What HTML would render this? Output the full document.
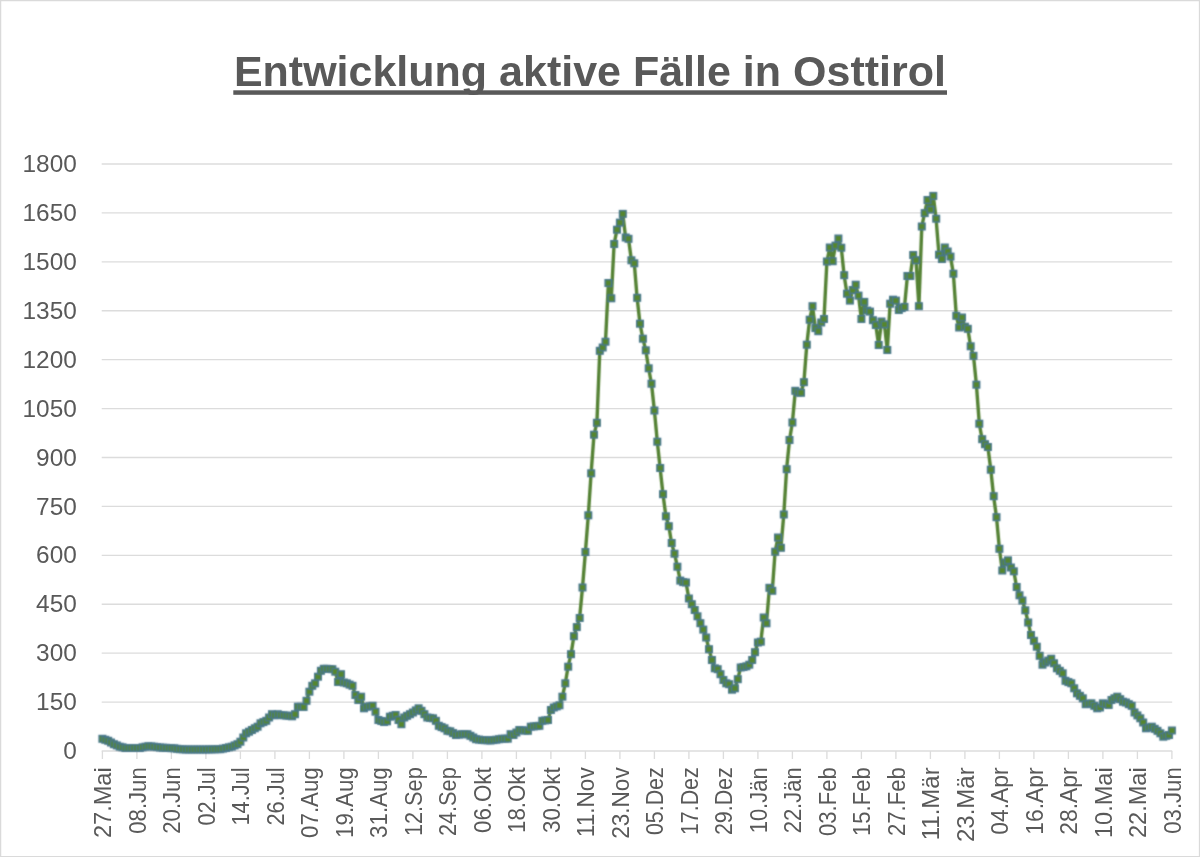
<!DOCTYPE html>
<html lang="de"><head><meta charset="utf-8"><title>Entwicklung aktive Fälle in Osttirol</title>
<style>html,body{margin:0;padding:0;background:#fff}body{width:1200px;height:857px;overflow:hidden;font-family:"Liberation Sans",sans-serif}svg{display:block}text{font-family:"Liberation Sans",sans-serif}.t{opacity:0.999}</style></head><body>
<svg width="1200" height="857" viewBox="0 0 1200 857">
<rect x="0" y="0" width="1200" height="857" fill="#ffffff"/>
<path d="M0 0H1200V857H0Z M1.25 1.25V855.95H1198.85V1.25Z" fill="#dadada" fill-rule="evenodd"/>
<g stroke="#dcdcdc" stroke-width="1.35" fill="none">
<line x1="101.70" y1="751.00" x2="1172.20" y2="751.00"/>
<line x1="101.70" y1="702.08" x2="1172.20" y2="702.08"/>
<line x1="101.70" y1="653.17" x2="1172.20" y2="653.17"/>
<line x1="101.70" y1="604.25" x2="1172.20" y2="604.25"/>
<line x1="101.70" y1="555.33" x2="1172.20" y2="555.33"/>
<line x1="101.70" y1="506.42" x2="1172.20" y2="506.42"/>
<line x1="101.70" y1="457.50" x2="1172.20" y2="457.50"/>
<line x1="101.70" y1="408.58" x2="1172.20" y2="408.58"/>
<line x1="101.70" y1="359.67" x2="1172.20" y2="359.67"/>
<line x1="101.70" y1="310.75" x2="1172.20" y2="310.75"/>
<line x1="101.70" y1="261.83" x2="1172.20" y2="261.83"/>
<line x1="101.70" y1="212.92" x2="1172.20" y2="212.92"/>
<line x1="101.70" y1="164.00" x2="1172.20" y2="164.00"/>
<line x1="102.40" y1="751.00" x2="102.40" y2="759.00"/>
<line x1="136.90" y1="751.00" x2="136.90" y2="759.00"/>
<line x1="171.40" y1="751.00" x2="171.40" y2="759.00"/>
<line x1="205.90" y1="751.00" x2="205.90" y2="759.00"/>
<line x1="240.40" y1="751.00" x2="240.40" y2="759.00"/>
<line x1="274.90" y1="751.00" x2="274.90" y2="759.00"/>
<line x1="309.40" y1="751.00" x2="309.40" y2="759.00"/>
<line x1="343.90" y1="751.00" x2="343.90" y2="759.00"/>
<line x1="378.40" y1="751.00" x2="378.40" y2="759.00"/>
<line x1="412.90" y1="751.00" x2="412.90" y2="759.00"/>
<line x1="447.40" y1="751.00" x2="447.40" y2="759.00"/>
<line x1="481.90" y1="751.00" x2="481.90" y2="759.00"/>
<line x1="516.40" y1="751.00" x2="516.40" y2="759.00"/>
<line x1="550.90" y1="751.00" x2="550.90" y2="759.00"/>
<line x1="585.40" y1="751.00" x2="585.40" y2="759.00"/>
<line x1="619.90" y1="751.00" x2="619.90" y2="759.00"/>
<line x1="654.40" y1="751.00" x2="654.40" y2="759.00"/>
<line x1="688.90" y1="751.00" x2="688.90" y2="759.00"/>
<line x1="723.40" y1="751.00" x2="723.40" y2="759.00"/>
<line x1="757.90" y1="751.00" x2="757.90" y2="759.00"/>
<line x1="792.40" y1="751.00" x2="792.40" y2="759.00"/>
<line x1="826.90" y1="751.00" x2="826.90" y2="759.00"/>
<line x1="861.40" y1="751.00" x2="861.40" y2="759.00"/>
<line x1="895.90" y1="751.00" x2="895.90" y2="759.00"/>
<line x1="930.40" y1="751.00" x2="930.40" y2="759.00"/>
<line x1="964.90" y1="751.00" x2="964.90" y2="759.00"/>
<line x1="999.40" y1="751.00" x2="999.40" y2="759.00"/>
<line x1="1033.90" y1="751.00" x2="1033.90" y2="759.00"/>
<line x1="1068.40" y1="751.00" x2="1068.40" y2="759.00"/>
<line x1="1102.90" y1="751.00" x2="1102.90" y2="759.00"/>
<line x1="1137.40" y1="751.00" x2="1137.40" y2="759.00"/>
<line x1="1171.90" y1="751.00" x2="1171.90" y2="759.00"/>
</g>
<g class="t" font-size="24.4" fill="#595959" text-anchor="end">
<text x="76.8" y="759.10">0</text>
<text x="76.8" y="710.18">150</text>
<text x="76.8" y="661.27">300</text>
<text x="76.8" y="612.35">450</text>
<text x="76.8" y="563.43">600</text>
<text x="76.8" y="514.52">750</text>
<text x="76.8" y="465.60">900</text>
<text x="76.8" y="416.68">1050</text>
<text x="76.8" y="367.77">1200</text>
<text x="76.8" y="318.85">1350</text>
<text x="76.8" y="269.94">1500</text>
<text x="76.8" y="221.02">1650</text>
<text x="76.8" y="172.10">1800</text>
</g>
<g class="t" font-size="23.8" fill="#595959" text-anchor="end">
<text transform="translate(111.40,767.3) rotate(-90) scale(0.991,1)">27.Mai</text>
<text transform="translate(145.90,767.3) rotate(-90) scale(0.929,1)">08.Jun</text>
<text transform="translate(180.40,767.3) rotate(-90) scale(0.929,1)">20.Jun</text>
<text transform="translate(214.90,767.3) rotate(-90) scale(0.917,1)">02.Jul</text>
<text transform="translate(249.40,767.3) rotate(-90) scale(0.917,1)">14.Jul</text>
<text transform="translate(283.90,767.3) rotate(-90) scale(0.917,1)">26.Jul</text>
<text transform="translate(318.40,767.3) rotate(-90) scale(0.936,1)">07.Aug</text>
<text transform="translate(352.90,767.3) rotate(-90) scale(0.936,1)">19.Aug</text>
<text transform="translate(387.40,767.3) rotate(-90) scale(0.936,1)">31.Aug</text>
<text transform="translate(421.90,767.3) rotate(-90) scale(0.912,1)">12.Sep</text>
<text transform="translate(456.40,767.3) rotate(-90) scale(0.912,1)">24.Sep</text>
<text transform="translate(490.90,767.3) rotate(-90) scale(0.937,1)">06.Okt</text>
<text transform="translate(525.40,767.3) rotate(-90) scale(0.937,1)">18.Okt</text>
<text transform="translate(559.90,767.3) rotate(-90) scale(0.937,1)">30.Okt</text>
<text transform="translate(594.40,767.3) rotate(-90) scale(0.949,1)">11.Nov</text>
<text transform="translate(628.90,767.3) rotate(-90) scale(0.949,1)">23.Nov</text>
<text transform="translate(663.40,767.3) rotate(-90) scale(0.899,1)">05.Dez</text>
<text transform="translate(697.90,767.3) rotate(-90) scale(0.899,1)">17.Dez</text>
<text transform="translate(732.40,767.3) rotate(-90) scale(0.899,1)">29.Dez</text>
<text transform="translate(766.90,767.3) rotate(-90) scale(0.925,1)">10.Jän</text>
<text transform="translate(801.40,767.3) rotate(-90) scale(0.925,1)">22.Jän</text>
<text transform="translate(835.90,767.3) rotate(-90) scale(0.927,1)">03.Feb</text>
<text transform="translate(870.40,767.3) rotate(-90) scale(0.927,1)">15.Feb</text>
<text transform="translate(904.90,767.3) rotate(-90) scale(0.927,1)">27.Feb</text>
<text transform="translate(939.40,767.3) rotate(-90) scale(1.009,1)">11.Mär</text>
<text transform="translate(973.90,767.3) rotate(-90) scale(1.009,1)">23.Mär</text>
<text transform="translate(1008.40,767.3) rotate(-90) scale(0.962,1)">04.Apr</text>
<text transform="translate(1042.90,767.3) rotate(-90) scale(0.962,1)">16.Apr</text>
<text transform="translate(1077.40,767.3) rotate(-90) scale(0.962,1)">28.Apr</text>
<text transform="translate(1111.90,767.3) rotate(-90) scale(0.991,1)">10.Mai</text>
<text transform="translate(1146.40,767.3) rotate(-90) scale(0.991,1)">22.Mai</text>
<text transform="translate(1180.90,767.3) rotate(-90) scale(0.929,1)">03.Jun</text>
</g>
<text x="589.9" y="85.8" font-size="43" font-weight="bold" fill="#595959" text-anchor="middle" id="title" class="t">Entwicklung aktive Fälle in Osttirol</text>
<rect id="ul" x="233.3" y="90.3" width="713.7" height="4.5" fill="#595959"/>
<defs><filter id="sf" x="-2%" y="-2%" width="104%" height="104%"><feConvolveMatrix order="3" kernelMatrix="1 2 1 2 8 2 1 2 1" edgeMode="none" preserveAlpha="false"/></filter></defs><g filter="url(#sf)">
<polyline fill="none" stroke="#548235" stroke-width="3.4" stroke-linejoin="round" stroke-linecap="round" points="102.4,738.8 105.3,739.8 108.2,740.8 111.0,742.5 113.9,744.2 116.8,745.4 119.7,746.7 122.5,747.3 125.4,748.0 128.3,748.0 131.2,748.0 134.0,748.0 136.9,748.0 139.8,748.0 142.7,747.3 145.5,746.7 148.4,746.2 151.3,746.4 154.2,746.7 157.0,747.1 159.9,747.5 162.8,747.7 165.7,747.8 168.5,748.0 171.4,748.2 174.3,748.3 177.2,748.8 180.0,749.2 182.9,749.3 185.8,749.5 188.7,749.5 191.5,749.5 194.4,749.5 197.3,749.5 200.2,749.5 203.0,749.5 205.9,749.5 208.8,749.4 211.7,749.4 214.5,749.3 217.4,749.2 220.3,749.2 223.2,748.6 226.0,748.0 228.9,747.3 231.8,746.7 234.7,745.4 237.5,744.2 240.4,741.7 243.3,737.5 246.2,733.3 249.0,731.7 251.9,730.0 254.8,728.3 257.6,726.7 260.5,723.3 263.4,722.1 266.3,720.8 269.1,717.5 272.0,714.2 274.9,715.3 277.8,714.2 280.6,715.0 283.5,715.3 286.4,715.6 289.3,715.8 292.1,716.3 295.0,714.2 297.9,706.7 300.8,706.8 303.6,707.0 306.5,700.8 309.4,691.7 312.3,685.8 315.1,683.3 318.0,676.7 320.9,670.8 323.8,668.8 326.6,668.8 329.5,669.0 332.4,669.2 335.3,671.7 338.1,682.0 341.0,674.2 343.9,682.5 346.8,683.3 349.6,684.6 352.5,685.8 355.4,695.0 358.3,700.0 361.1,696.7 364.0,708.3 366.9,706.7 369.8,706.2 372.6,705.8 375.5,711.7 378.4,720.0 381.3,721.0 384.1,722.0 387.0,721.3 389.9,716.7 392.8,715.8 395.6,715.0 398.5,720.0 401.4,724.2 404.3,717.5 407.1,715.8 410.0,714.2 412.9,712.5 415.8,710.4 418.6,708.3 421.5,710.8 424.4,714.2 427.3,717.5 430.1,717.9 433.0,718.3 435.9,720.8 438.8,725.8 441.6,727.1 444.5,728.3 447.4,730.8 450.3,731.2 453.1,733.1 456.0,735.0 458.9,734.6 461.8,734.2 464.6,734.2 467.5,734.2 470.4,735.8 473.3,737.5 476.1,739.2 479.0,739.6 481.9,740.0 484.8,740.2 487.6,740.3 490.5,740.5 493.4,740.1 496.3,739.7 499.1,739.2 502.0,738.7 504.9,738.7 507.8,738.7 510.6,734.2 513.5,735.0 516.4,732.5 519.3,730.0 522.1,730.3 525.0,730.6 527.9,730.8 530.8,726.7 533.6,726.4 536.5,726.1 539.4,725.8 542.3,720.8 545.1,720.4 548.0,720.0 550.9,710.0 553.8,707.5 556.6,706.4 559.5,705.3 562.4,696.7 565.3,683.3 568.1,666.7 571.0,654.2 573.9,636.2 576.8,627.1 579.6,618.0 582.5,587.5 585.4,552.0 588.3,515.3 591.1,473.3 594.0,434.7 596.9,422.8 599.8,350.8 602.6,347.5 605.5,341.7 608.4,283.0 611.3,298.3 614.1,244.0 617.0,229.7 619.9,222.6 622.8,213.9 625.6,237.5 628.5,238.8 631.4,260.3 634.3,263.3 637.1,297.8 640.0,323.7 642.9,338.7 645.8,350.3 648.6,368.3 651.5,383.7 654.4,410.5 657.3,441.7 660.1,468.0 663.0,494.2 665.9,516.3 668.8,526.2 671.6,543.0 674.5,553.7 677.4,566.7 680.3,580.6 683.1,582.1 686.0,582.5 688.9,598.5 691.8,604.2 694.6,610.0 697.5,616.2 700.4,623.2 703.3,629.6 706.1,637.5 709.0,649.2 711.9,660.0 714.8,668.3 717.6,669.2 720.5,674.2 723.4,680.0 726.3,683.3 729.1,684.2 732.0,689.7 734.9,688.3 737.8,679.2 740.6,667.5 743.5,667.0 746.4,666.3 749.3,664.7 752.1,660.0 755.0,652.2 757.9,642.5 760.8,641.7 763.6,617.5 766.5,623.3 769.4,587.8 772.3,590.8 775.1,551.7 778.0,537.5 780.9,547.8 783.8,514.5 786.6,469.2 789.5,440.0 792.4,422.5 795.3,390.8 798.1,392.5 801.0,392.8 803.9,382.2 806.8,344.7 809.6,319.8 812.5,306.2 815.4,328.1 818.3,331.2 821.1,322.5 824.0,319.0 826.9,261.5 829.8,247.5 832.6,261.2 835.5,245.6 838.4,238.5 841.3,247.8 844.1,275.2 847.0,293.8 849.9,300.6 852.8,290.0 855.6,284.8 858.5,295.6 861.4,319.0 864.3,301.9 867.1,310.6 870.0,311.6 872.9,320.2 875.8,325.0 878.6,345.0 881.5,321.5 884.4,324.4 887.3,350.0 890.1,303.8 893.0,299.8 895.9,300.6 898.8,310.0 901.6,308.1 904.5,306.9 907.4,276.0 910.3,276.0 913.1,255.0 916.0,260.2 918.9,306.2 921.8,226.5 924.6,213.1 927.5,200.0 930.4,209.6 933.3,195.9 936.1,218.8 939.0,254.8 941.9,259.0 944.8,247.5 947.6,251.5 950.5,256.6 953.4,273.8 956.3,315.8 959.1,327.5 962.0,317.5 964.9,326.7 967.8,328.8 970.6,346.3 973.5,355.8 976.4,384.7 979.3,423.7 982.1,439.2 985.0,444.2 987.9,447.0 990.8,469.7 993.6,496.2 996.5,517.2 999.4,548.8 1002.3,570.5 1005.1,562.5 1008.0,560.3 1010.9,567.5 1013.8,571.3 1016.6,587.0 1019.5,595.3 1022.4,600.5 1025.3,610.3 1028.2,622.5 1031.0,635.0 1033.9,640.8 1036.8,646.7 1039.7,655.8 1042.5,664.7 1045.4,662.5 1048.3,660.6 1051.2,658.7 1054.0,663.3 1056.9,668.3 1059.8,670.8 1062.7,673.3 1065.5,680.8 1068.4,682.1 1071.3,683.3 1074.2,688.3 1077.0,693.3 1079.9,695.8 1082.8,698.3 1085.7,704.2 1088.5,703.8 1091.4,703.3 1094.3,705.8 1097.2,708.3 1100.0,707.5 1102.9,703.3 1105.8,704.2 1108.7,705.0 1111.5,700.0 1114.4,698.3 1117.3,696.7 1120.2,699.2 1123.0,701.7 1125.9,702.5 1128.8,704.2 1131.7,705.8 1134.5,712.5 1137.4,715.4 1140.3,718.3 1143.2,722.5 1146.0,728.3 1148.9,727.5 1151.8,726.7 1154.7,728.8 1157.5,730.8 1160.4,733.3 1163.3,736.7 1166.2,735.8 1169.0,735.0 1171.9,730.5"/>
<g fill="#55862e" stroke="#47778a" stroke-width="1.4">
<rect x="99.1" y="735.5" width="6.6" height="6.6"/>
<rect x="102.0" y="736.5" width="6.6" height="6.6"/>
<rect x="104.9" y="737.5" width="6.6" height="6.6"/>
<rect x="107.7" y="739.2" width="6.6" height="6.6"/>
<rect x="110.6" y="740.9" width="6.6" height="6.6"/>
<rect x="113.5" y="742.1" width="6.6" height="6.6"/>
<rect x="116.4" y="743.4" width="6.6" height="6.6"/>
<rect x="119.2" y="744.0" width="6.6" height="6.6"/>
<rect x="122.1" y="744.7" width="6.6" height="6.6"/>
<rect x="125.0" y="744.7" width="6.6" height="6.6"/>
<rect x="127.9" y="744.7" width="6.6" height="6.6"/>
<rect x="130.7" y="744.7" width="6.6" height="6.6"/>
<rect x="133.6" y="744.7" width="6.6" height="6.6"/>
<rect x="136.5" y="744.7" width="6.6" height="6.6"/>
<rect x="139.3" y="744.0" width="6.6" height="6.6"/>
<rect x="142.2" y="743.4" width="6.6" height="6.6"/>
<rect x="145.1" y="742.9" width="6.6" height="6.6"/>
<rect x="148.0" y="743.1" width="6.6" height="6.6"/>
<rect x="150.8" y="743.4" width="6.6" height="6.6"/>
<rect x="153.7" y="743.8" width="6.6" height="6.6"/>
<rect x="156.6" y="744.2" width="6.6" height="6.6"/>
<rect x="159.5" y="744.4" width="6.6" height="6.6"/>
<rect x="162.3" y="744.5" width="6.6" height="6.6"/>
<rect x="165.2" y="744.7" width="6.6" height="6.6"/>
<rect x="168.1" y="744.9" width="6.6" height="6.6"/>
<rect x="171.0" y="745.0" width="6.6" height="6.6"/>
<rect x="173.8" y="745.5" width="6.6" height="6.6"/>
<rect x="176.7" y="745.9" width="6.6" height="6.6"/>
<rect x="179.6" y="746.0" width="6.6" height="6.6"/>
<rect x="182.5" y="746.2" width="6.6" height="6.6"/>
<rect x="185.3" y="746.2" width="6.6" height="6.6"/>
<rect x="188.2" y="746.2" width="6.6" height="6.6"/>
<rect x="191.1" y="746.2" width="6.6" height="6.6"/>
<rect x="194.0" y="746.2" width="6.6" height="6.6"/>
<rect x="196.8" y="746.2" width="6.6" height="6.6"/>
<rect x="199.7" y="746.2" width="6.6" height="6.6"/>
<rect x="202.6" y="746.2" width="6.6" height="6.6"/>
<rect x="205.5" y="746.1" width="6.6" height="6.6"/>
<rect x="208.3" y="746.1" width="6.6" height="6.6"/>
<rect x="211.2" y="746.0" width="6.6" height="6.6"/>
<rect x="214.1" y="745.9" width="6.6" height="6.6"/>
<rect x="217.0" y="745.9" width="6.6" height="6.6"/>
<rect x="219.8" y="745.3" width="6.6" height="6.6"/>
<rect x="222.7" y="744.7" width="6.6" height="6.6"/>
<rect x="225.6" y="744.0" width="6.6" height="6.6"/>
<rect x="228.5" y="743.4" width="6.6" height="6.6"/>
<rect x="231.3" y="742.1" width="6.6" height="6.6"/>
<rect x="234.2" y="740.9" width="6.6" height="6.6"/>
<rect x="237.1" y="738.4" width="6.6" height="6.6"/>
<rect x="240.0" y="734.2" width="6.6" height="6.6"/>
<rect x="242.8" y="730.0" width="6.6" height="6.6"/>
<rect x="245.7" y="728.4" width="6.6" height="6.6"/>
<rect x="248.6" y="726.7" width="6.6" height="6.6"/>
<rect x="251.5" y="725.0" width="6.6" height="6.6"/>
<rect x="254.3" y="723.4" width="6.6" height="6.6"/>
<rect x="257.2" y="720.0" width="6.6" height="6.6"/>
<rect x="260.1" y="718.8" width="6.6" height="6.6"/>
<rect x="263.0" y="717.5" width="6.6" height="6.6"/>
<rect x="265.8" y="714.2" width="6.6" height="6.6"/>
<rect x="268.7" y="710.9" width="6.6" height="6.6"/>
<rect x="271.6" y="712.0" width="6.6" height="6.6"/>
<rect x="274.5" y="710.9" width="6.6" height="6.6"/>
<rect x="277.3" y="711.7" width="6.6" height="6.6"/>
<rect x="280.2" y="712.0" width="6.6" height="6.6"/>
<rect x="283.1" y="712.3" width="6.6" height="6.6"/>
<rect x="286.0" y="712.5" width="6.6" height="6.6"/>
<rect x="288.8" y="713.0" width="6.6" height="6.6"/>
<rect x="291.7" y="710.9" width="6.6" height="6.6"/>
<rect x="294.6" y="703.4" width="6.6" height="6.6"/>
<rect x="297.5" y="703.5" width="6.6" height="6.6"/>
<rect x="300.3" y="703.7" width="6.6" height="6.6"/>
<rect x="303.2" y="697.5" width="6.6" height="6.6"/>
<rect x="306.1" y="688.4" width="6.6" height="6.6"/>
<rect x="309.0" y="682.5" width="6.6" height="6.6"/>
<rect x="311.8" y="680.0" width="6.6" height="6.6"/>
<rect x="314.7" y="673.4" width="6.6" height="6.6"/>
<rect x="317.6" y="667.5" width="6.6" height="6.6"/>
<rect x="320.5" y="665.5" width="6.6" height="6.6"/>
<rect x="323.3" y="665.5" width="6.6" height="6.6"/>
<rect x="326.2" y="665.7" width="6.6" height="6.6"/>
<rect x="329.1" y="665.9" width="6.6" height="6.6"/>
<rect x="332.0" y="668.4" width="6.6" height="6.6"/>
<rect x="334.8" y="678.7" width="6.6" height="6.6"/>
<rect x="337.7" y="670.9" width="6.6" height="6.6"/>
<rect x="340.6" y="679.2" width="6.6" height="6.6"/>
<rect x="343.5" y="680.0" width="6.6" height="6.6"/>
<rect x="346.3" y="681.3" width="6.6" height="6.6"/>
<rect x="349.2" y="682.5" width="6.6" height="6.6"/>
<rect x="352.1" y="691.7" width="6.6" height="6.6"/>
<rect x="355.0" y="696.7" width="6.6" height="6.6"/>
<rect x="357.8" y="693.4" width="6.6" height="6.6"/>
<rect x="360.7" y="705.0" width="6.6" height="6.6"/>
<rect x="363.6" y="703.4" width="6.6" height="6.6"/>
<rect x="366.5" y="703.0" width="6.6" height="6.6"/>
<rect x="369.3" y="702.5" width="6.6" height="6.6"/>
<rect x="372.2" y="708.4" width="6.6" height="6.6"/>
<rect x="375.1" y="716.7" width="6.6" height="6.6"/>
<rect x="378.0" y="717.7" width="6.6" height="6.6"/>
<rect x="380.8" y="718.7" width="6.6" height="6.6"/>
<rect x="383.7" y="718.0" width="6.6" height="6.6"/>
<rect x="386.6" y="713.4" width="6.6" height="6.6"/>
<rect x="389.5" y="712.5" width="6.6" height="6.6"/>
<rect x="392.3" y="711.7" width="6.6" height="6.6"/>
<rect x="395.2" y="716.7" width="6.6" height="6.6"/>
<rect x="398.1" y="720.9" width="6.6" height="6.6"/>
<rect x="401.0" y="714.2" width="6.6" height="6.6"/>
<rect x="403.8" y="712.5" width="6.6" height="6.6"/>
<rect x="406.7" y="710.9" width="6.6" height="6.6"/>
<rect x="409.6" y="709.2" width="6.6" height="6.6"/>
<rect x="412.5" y="707.1" width="6.6" height="6.6"/>
<rect x="415.3" y="705.0" width="6.6" height="6.6"/>
<rect x="418.2" y="707.5" width="6.6" height="6.6"/>
<rect x="421.1" y="710.9" width="6.6" height="6.6"/>
<rect x="424.0" y="714.2" width="6.6" height="6.6"/>
<rect x="426.8" y="714.6" width="6.6" height="6.6"/>
<rect x="429.7" y="715.0" width="6.6" height="6.6"/>
<rect x="432.6" y="717.5" width="6.6" height="6.6"/>
<rect x="435.5" y="722.5" width="6.6" height="6.6"/>
<rect x="438.3" y="723.8" width="6.6" height="6.6"/>
<rect x="441.2" y="725.0" width="6.6" height="6.6"/>
<rect x="444.1" y="727.5" width="6.6" height="6.6"/>
<rect x="447.0" y="728.0" width="6.6" height="6.6"/>
<rect x="449.8" y="729.8" width="6.6" height="6.6"/>
<rect x="452.7" y="731.7" width="6.6" height="6.6"/>
<rect x="455.6" y="731.3" width="6.6" height="6.6"/>
<rect x="458.5" y="730.9" width="6.6" height="6.6"/>
<rect x="461.3" y="730.9" width="6.6" height="6.6"/>
<rect x="464.2" y="730.9" width="6.6" height="6.6"/>
<rect x="467.1" y="732.5" width="6.6" height="6.6"/>
<rect x="470.0" y="734.2" width="6.6" height="6.6"/>
<rect x="472.8" y="735.9" width="6.6" height="6.6"/>
<rect x="475.7" y="736.3" width="6.6" height="6.6"/>
<rect x="478.6" y="736.7" width="6.6" height="6.6"/>
<rect x="481.5" y="736.9" width="6.6" height="6.6"/>
<rect x="484.3" y="737.0" width="6.6" height="6.6"/>
<rect x="487.2" y="737.2" width="6.6" height="6.6"/>
<rect x="490.1" y="736.8" width="6.6" height="6.6"/>
<rect x="493.0" y="736.4" width="6.6" height="6.6"/>
<rect x="495.8" y="735.9" width="6.6" height="6.6"/>
<rect x="498.7" y="735.4" width="6.6" height="6.6"/>
<rect x="501.6" y="735.4" width="6.6" height="6.6"/>
<rect x="504.5" y="735.4" width="6.6" height="6.6"/>
<rect x="507.3" y="730.9" width="6.6" height="6.6"/>
<rect x="510.2" y="731.7" width="6.6" height="6.6"/>
<rect x="513.1" y="729.2" width="6.6" height="6.6"/>
<rect x="516.0" y="726.7" width="6.6" height="6.6"/>
<rect x="518.9" y="727.0" width="6.6" height="6.6"/>
<rect x="521.7" y="727.3" width="6.6" height="6.6"/>
<rect x="524.6" y="727.5" width="6.6" height="6.6"/>
<rect x="527.5" y="723.4" width="6.6" height="6.6"/>
<rect x="530.4" y="723.1" width="6.6" height="6.6"/>
<rect x="533.2" y="722.8" width="6.6" height="6.6"/>
<rect x="536.1" y="722.5" width="6.6" height="6.6"/>
<rect x="539.0" y="717.5" width="6.6" height="6.6"/>
<rect x="541.9" y="717.1" width="6.6" height="6.6"/>
<rect x="544.7" y="716.7" width="6.6" height="6.6"/>
<rect x="547.6" y="706.7" width="6.6" height="6.6"/>
<rect x="550.5" y="704.2" width="6.6" height="6.6"/>
<rect x="553.4" y="703.1" width="6.6" height="6.6"/>
<rect x="556.2" y="702.0" width="6.6" height="6.6"/>
<rect x="559.1" y="693.4" width="6.6" height="6.6"/>
<rect x="562.0" y="680.0" width="6.6" height="6.6"/>
<rect x="564.9" y="663.4" width="6.6" height="6.6"/>
<rect x="567.7" y="650.9" width="6.6" height="6.6"/>
<rect x="570.6" y="632.9" width="6.6" height="6.6"/>
<rect x="573.5" y="623.8" width="6.6" height="6.6"/>
<rect x="576.4" y="614.7" width="6.6" height="6.6"/>
<rect x="579.2" y="584.2" width="6.6" height="6.6"/>
<rect x="582.1" y="548.7" width="6.6" height="6.6"/>
<rect x="585.0" y="512.0" width="6.6" height="6.6"/>
<rect x="587.9" y="470.0" width="6.6" height="6.6"/>
<rect x="590.7" y="431.4" width="6.6" height="6.6"/>
<rect x="593.6" y="419.5" width="6.6" height="6.6"/>
<rect x="596.5" y="347.5" width="6.6" height="6.6"/>
<rect x="599.4" y="344.2" width="6.6" height="6.6"/>
<rect x="602.2" y="338.4" width="6.6" height="6.6"/>
<rect x="605.1" y="279.7" width="6.6" height="6.6"/>
<rect x="608.0" y="295.0" width="6.6" height="6.6"/>
<rect x="610.9" y="240.7" width="6.6" height="6.6"/>
<rect x="613.7" y="226.4" width="6.6" height="6.6"/>
<rect x="616.6" y="219.3" width="6.6" height="6.6"/>
<rect x="619.5" y="210.6" width="6.6" height="6.6"/>
<rect x="622.4" y="234.2" width="6.6" height="6.6"/>
<rect x="625.2" y="235.5" width="6.6" height="6.6"/>
<rect x="628.1" y="257.0" width="6.6" height="6.6"/>
<rect x="631.0" y="260.0" width="6.6" height="6.6"/>
<rect x="633.9" y="294.5" width="6.6" height="6.6"/>
<rect x="636.7" y="320.4" width="6.6" height="6.6"/>
<rect x="639.6" y="335.4" width="6.6" height="6.6"/>
<rect x="642.5" y="347.0" width="6.6" height="6.6"/>
<rect x="645.4" y="365.0" width="6.6" height="6.6"/>
<rect x="648.2" y="380.4" width="6.6" height="6.6"/>
<rect x="651.1" y="407.2" width="6.6" height="6.6"/>
<rect x="654.0" y="438.4" width="6.6" height="6.6"/>
<rect x="656.9" y="464.7" width="6.6" height="6.6"/>
<rect x="659.7" y="490.9" width="6.6" height="6.6"/>
<rect x="662.6" y="513.0" width="6.6" height="6.6"/>
<rect x="665.5" y="522.9" width="6.6" height="6.6"/>
<rect x="668.4" y="539.7" width="6.6" height="6.6"/>
<rect x="671.2" y="550.4" width="6.6" height="6.6"/>
<rect x="674.1" y="563.4" width="6.6" height="6.6"/>
<rect x="677.0" y="577.3" width="6.6" height="6.6"/>
<rect x="679.9" y="578.8" width="6.6" height="6.6"/>
<rect x="682.7" y="579.2" width="6.6" height="6.6"/>
<rect x="685.6" y="595.2" width="6.6" height="6.6"/>
<rect x="688.5" y="600.9" width="6.6" height="6.6"/>
<rect x="691.4" y="606.7" width="6.6" height="6.6"/>
<rect x="694.2" y="613.0" width="6.6" height="6.6"/>
<rect x="697.1" y="619.9" width="6.6" height="6.6"/>
<rect x="700.0" y="626.3" width="6.6" height="6.6"/>
<rect x="702.9" y="634.2" width="6.6" height="6.6"/>
<rect x="705.7" y="645.9" width="6.6" height="6.6"/>
<rect x="708.6" y="656.7" width="6.6" height="6.6"/>
<rect x="711.5" y="665.0" width="6.6" height="6.6"/>
<rect x="714.4" y="665.9" width="6.6" height="6.6"/>
<rect x="717.2" y="670.9" width="6.6" height="6.6"/>
<rect x="720.1" y="676.7" width="6.6" height="6.6"/>
<rect x="723.0" y="680.0" width="6.6" height="6.6"/>
<rect x="725.9" y="680.9" width="6.6" height="6.6"/>
<rect x="728.7" y="686.4" width="6.6" height="6.6"/>
<rect x="731.6" y="685.0" width="6.6" height="6.6"/>
<rect x="734.5" y="675.9" width="6.6" height="6.6"/>
<rect x="737.4" y="664.2" width="6.6" height="6.6"/>
<rect x="740.2" y="663.7" width="6.6" height="6.6"/>
<rect x="743.1" y="663.0" width="6.6" height="6.6"/>
<rect x="746.0" y="661.4" width="6.6" height="6.6"/>
<rect x="748.9" y="656.7" width="6.6" height="6.6"/>
<rect x="751.7" y="648.9" width="6.6" height="6.6"/>
<rect x="754.6" y="639.2" width="6.6" height="6.6"/>
<rect x="757.5" y="638.4" width="6.6" height="6.6"/>
<rect x="760.4" y="614.2" width="6.6" height="6.6"/>
<rect x="763.2" y="620.0" width="6.6" height="6.6"/>
<rect x="766.1" y="584.5" width="6.6" height="6.6"/>
<rect x="769.0" y="587.5" width="6.6" height="6.6"/>
<rect x="771.9" y="548.4" width="6.6" height="6.6"/>
<rect x="774.7" y="534.2" width="6.6" height="6.6"/>
<rect x="777.6" y="544.5" width="6.6" height="6.6"/>
<rect x="780.5" y="511.2" width="6.6" height="6.6"/>
<rect x="783.4" y="465.9" width="6.6" height="6.6"/>
<rect x="786.2" y="436.7" width="6.6" height="6.6"/>
<rect x="789.1" y="419.2" width="6.6" height="6.6"/>
<rect x="792.0" y="387.5" width="6.6" height="6.6"/>
<rect x="794.9" y="389.2" width="6.6" height="6.6"/>
<rect x="797.7" y="389.5" width="6.6" height="6.6"/>
<rect x="800.6" y="378.9" width="6.6" height="6.6"/>
<rect x="803.5" y="341.4" width="6.6" height="6.6"/>
<rect x="806.4" y="316.4" width="6.6" height="6.6"/>
<rect x="809.2" y="302.9" width="6.6" height="6.6"/>
<rect x="812.1" y="324.8" width="6.6" height="6.6"/>
<rect x="815.0" y="327.9" width="6.6" height="6.6"/>
<rect x="817.9" y="319.2" width="6.6" height="6.6"/>
<rect x="820.7" y="315.7" width="6.6" height="6.6"/>
<rect x="823.6" y="258.2" width="6.6" height="6.6"/>
<rect x="826.5" y="244.2" width="6.6" height="6.6"/>
<rect x="829.4" y="257.9" width="6.6" height="6.6"/>
<rect x="832.2" y="242.3" width="6.6" height="6.6"/>
<rect x="835.1" y="235.2" width="6.6" height="6.6"/>
<rect x="838.0" y="244.4" width="6.6" height="6.6"/>
<rect x="840.9" y="271.9" width="6.6" height="6.6"/>
<rect x="843.7" y="290.4" width="6.6" height="6.6"/>
<rect x="846.6" y="297.3" width="6.6" height="6.6"/>
<rect x="849.5" y="286.7" width="6.6" height="6.6"/>
<rect x="852.4" y="281.4" width="6.6" height="6.6"/>
<rect x="855.2" y="292.3" width="6.6" height="6.6"/>
<rect x="858.1" y="315.7" width="6.6" height="6.6"/>
<rect x="861.0" y="298.6" width="6.6" height="6.6"/>
<rect x="863.9" y="307.3" width="6.6" height="6.6"/>
<rect x="866.7" y="308.3" width="6.6" height="6.6"/>
<rect x="869.6" y="316.9" width="6.6" height="6.6"/>
<rect x="872.5" y="321.7" width="6.6" height="6.6"/>
<rect x="875.4" y="341.7" width="6.6" height="6.6"/>
<rect x="878.2" y="318.2" width="6.6" height="6.6"/>
<rect x="881.1" y="321.1" width="6.6" height="6.6"/>
<rect x="884.0" y="346.7" width="6.6" height="6.6"/>
<rect x="886.9" y="300.4" width="6.6" height="6.6"/>
<rect x="889.7" y="296.4" width="6.6" height="6.6"/>
<rect x="892.6" y="297.3" width="6.6" height="6.6"/>
<rect x="895.5" y="306.7" width="6.6" height="6.6"/>
<rect x="898.4" y="304.8" width="6.6" height="6.6"/>
<rect x="901.2" y="303.6" width="6.6" height="6.6"/>
<rect x="904.1" y="272.7" width="6.6" height="6.6"/>
<rect x="907.0" y="272.7" width="6.6" height="6.6"/>
<rect x="909.9" y="251.7" width="6.6" height="6.6"/>
<rect x="912.7" y="256.9" width="6.6" height="6.6"/>
<rect x="915.6" y="302.9" width="6.6" height="6.6"/>
<rect x="918.5" y="223.2" width="6.6" height="6.6"/>
<rect x="921.4" y="209.8" width="6.6" height="6.6"/>
<rect x="924.2" y="196.7" width="6.6" height="6.6"/>
<rect x="927.1" y="206.3" width="6.6" height="6.6"/>
<rect x="930.0" y="192.6" width="6.6" height="6.6"/>
<rect x="932.9" y="215.4" width="6.6" height="6.6"/>
<rect x="935.7" y="251.4" width="6.6" height="6.6"/>
<rect x="938.6" y="255.7" width="6.6" height="6.6"/>
<rect x="941.5" y="244.2" width="6.6" height="6.6"/>
<rect x="944.4" y="248.2" width="6.6" height="6.6"/>
<rect x="947.2" y="253.3" width="6.6" height="6.6"/>
<rect x="950.1" y="270.4" width="6.6" height="6.6"/>
<rect x="953.0" y="312.5" width="6.6" height="6.6"/>
<rect x="955.9" y="324.2" width="6.6" height="6.6"/>
<rect x="958.7" y="314.2" width="6.6" height="6.6"/>
<rect x="961.6" y="323.4" width="6.6" height="6.6"/>
<rect x="964.5" y="325.5" width="6.6" height="6.6"/>
<rect x="967.4" y="343.0" width="6.6" height="6.6"/>
<rect x="970.2" y="352.5" width="6.6" height="6.6"/>
<rect x="973.1" y="381.4" width="6.6" height="6.6"/>
<rect x="976.0" y="420.4" width="6.6" height="6.6"/>
<rect x="978.9" y="435.9" width="6.6" height="6.6"/>
<rect x="981.7" y="440.9" width="6.6" height="6.6"/>
<rect x="984.6" y="443.7" width="6.6" height="6.6"/>
<rect x="987.5" y="466.4" width="6.6" height="6.6"/>
<rect x="990.4" y="492.9" width="6.6" height="6.6"/>
<rect x="993.2" y="513.9" width="6.6" height="6.6"/>
<rect x="996.1" y="545.5" width="6.6" height="6.6"/>
<rect x="999.0" y="567.2" width="6.6" height="6.6"/>
<rect x="1001.9" y="559.2" width="6.6" height="6.6"/>
<rect x="1004.7" y="557.0" width="6.6" height="6.6"/>
<rect x="1007.6" y="564.2" width="6.6" height="6.6"/>
<rect x="1010.5" y="568.0" width="6.6" height="6.6"/>
<rect x="1013.4" y="583.7" width="6.6" height="6.6"/>
<rect x="1016.2" y="592.0" width="6.6" height="6.6"/>
<rect x="1019.1" y="597.2" width="6.6" height="6.6"/>
<rect x="1022.0" y="607.0" width="6.6" height="6.6"/>
<rect x="1024.9" y="619.2" width="6.6" height="6.6"/>
<rect x="1027.7" y="631.7" width="6.6" height="6.6"/>
<rect x="1030.6" y="637.5" width="6.6" height="6.6"/>
<rect x="1033.5" y="643.4" width="6.6" height="6.6"/>
<rect x="1036.4" y="652.5" width="6.6" height="6.6"/>
<rect x="1039.2" y="661.4" width="6.6" height="6.6"/>
<rect x="1042.1" y="659.2" width="6.6" height="6.6"/>
<rect x="1045.0" y="657.3" width="6.6" height="6.6"/>
<rect x="1047.9" y="655.4" width="6.6" height="6.6"/>
<rect x="1050.7" y="660.0" width="6.6" height="6.6"/>
<rect x="1053.6" y="665.0" width="6.6" height="6.6"/>
<rect x="1056.5" y="667.5" width="6.6" height="6.6"/>
<rect x="1059.4" y="670.0" width="6.6" height="6.6"/>
<rect x="1062.2" y="677.5" width="6.6" height="6.6"/>
<rect x="1065.1" y="678.8" width="6.6" height="6.6"/>
<rect x="1068.0" y="680.0" width="6.6" height="6.6"/>
<rect x="1070.9" y="685.0" width="6.6" height="6.6"/>
<rect x="1073.7" y="690.0" width="6.6" height="6.6"/>
<rect x="1076.6" y="692.5" width="6.6" height="6.6"/>
<rect x="1079.5" y="695.0" width="6.6" height="6.6"/>
<rect x="1082.4" y="700.9" width="6.6" height="6.6"/>
<rect x="1085.2" y="700.5" width="6.6" height="6.6"/>
<rect x="1088.1" y="700.0" width="6.6" height="6.6"/>
<rect x="1091.0" y="702.5" width="6.6" height="6.6"/>
<rect x="1093.9" y="705.0" width="6.6" height="6.6"/>
<rect x="1096.7" y="704.2" width="6.6" height="6.6"/>
<rect x="1099.6" y="700.0" width="6.6" height="6.6"/>
<rect x="1102.5" y="700.9" width="6.6" height="6.6"/>
<rect x="1105.4" y="701.7" width="6.6" height="6.6"/>
<rect x="1108.2" y="696.7" width="6.6" height="6.6"/>
<rect x="1111.1" y="695.0" width="6.6" height="6.6"/>
<rect x="1114.0" y="693.4" width="6.6" height="6.6"/>
<rect x="1116.9" y="695.9" width="6.6" height="6.6"/>
<rect x="1119.7" y="698.4" width="6.6" height="6.6"/>
<rect x="1122.6" y="699.2" width="6.6" height="6.6"/>
<rect x="1125.5" y="700.9" width="6.6" height="6.6"/>
<rect x="1128.4" y="702.5" width="6.6" height="6.6"/>
<rect x="1131.2" y="709.2" width="6.6" height="6.6"/>
<rect x="1134.1" y="712.1" width="6.6" height="6.6"/>
<rect x="1137.0" y="715.0" width="6.6" height="6.6"/>
<rect x="1139.9" y="719.2" width="6.6" height="6.6"/>
<rect x="1142.7" y="725.0" width="6.6" height="6.6"/>
<rect x="1145.6" y="724.2" width="6.6" height="6.6"/>
<rect x="1148.5" y="723.4" width="6.6" height="6.6"/>
<rect x="1151.4" y="725.5" width="6.6" height="6.6"/>
<rect x="1154.2" y="727.5" width="6.6" height="6.6"/>
<rect x="1157.1" y="730.0" width="6.6" height="6.6"/>
<rect x="1160.0" y="733.4" width="6.6" height="6.6"/>
<rect x="1162.9" y="732.5" width="6.6" height="6.6"/>
<rect x="1165.7" y="731.7" width="6.6" height="6.6"/>
<rect x="1168.6" y="727.2" width="6.6" height="6.6"/>
</g></g>
</svg></body></html>
